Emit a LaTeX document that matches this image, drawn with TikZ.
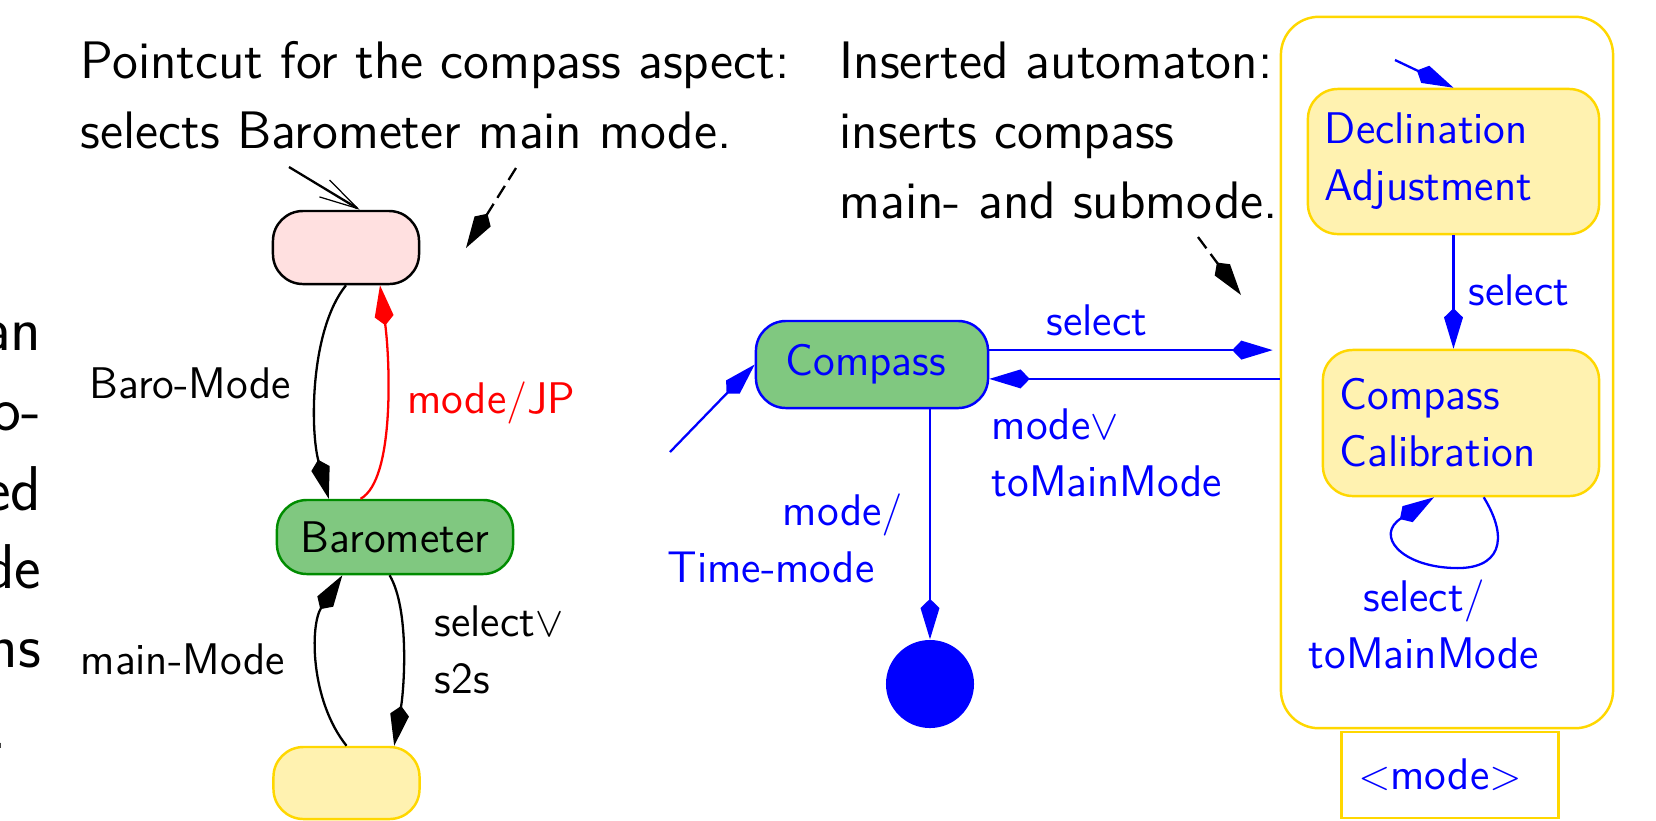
\documentclass[tikz,border=0pt]{standalone}
\usetikzlibrary{arrows.meta}
\definecolor{pinkfill}{RGB}{255,224,224}
\definecolor{greenfill}{RGB}{128,200,128}
\definecolor{yellowfill}{RGB}{255,242,176}
\definecolor{goldline}{RGB}{255,215,0}
\definecolor{greenline}{RGB}{0,140,0}
\begin{document}
\begin{tikzpicture}[x=0.01cm,y=-0.01cm,
  lblfont/.style={font=\sffamily\fontsize{12.6}{16.2}\selectfont},
  lbl/.style={lblfont,inner sep=0pt,align=left},
  ttl/.style={font=\sffamily\fontsize{15}{19.85}\selectfont,inner sep=0pt,align=left},
  frag/.style={font=\sffamily\fontsize{18}{22.5}\selectfont,inner sep=0pt,anchor=base east},
  stbox/.style={lblfont,rounded corners=0.3cm,line width=0.7pt,inner sep=0pt},
  pinkst/.style={stbox,draw=black,fill=pinkfill},
  greenst/.style={stbox,fill=greenfill},
  yellowst/.style={stbox,draw=goldline,fill=yellowfill},
  kitetip/.style={-{Kite[length=11.5pt,width=5.4pt,inset=2.6pt]}},
  trans/.style={line width=0.65pt,kitetip},
  dashline/.style={dash pattern=on 4pt off 2pt},
]
\useasboundingbox (0,0) rectangle (1656,820);

% paragraph running in from the left
\foreach \w/\y [count=\k] in {an/350,o-/430,ed/510,de/588,ns/667}
  \node[frag] (frag\k) at (42,\y) {\w};
\node[frag] (frag6) at (8,748) {.};

% headings (base anchor = baseline of the last line)
\node[ttl,anchor=base west] (t1) at (80,148) {Pointcut for the compass aspect:\\selects Barometer main mode.};
\node[ttl,anchor=base west] (t2) at (839,218) {Inserted automaton:\\inserts compass\\main- and submode.};

% pointcut automaton
\node[pinkst,minimum width=1.46cm,minimum height=0.73cm] (pink) at (346,247.5) {};
\node[greenst,draw=greenline,minimum width=2.36cm,minimum height=0.74cm] (baro) at (395,537) {Barometer};
\node[yellowst,minimum width=1.46cm,minimum height=0.72cm] (bot) at (346.5,783) {};

% inserted automaton
\node[greenst,draw=blue,text=blue,minimum width=2.32cm,minimum height=0.87cm] (compass) at (872,364.5) {Compass\kern0.12cm};
\node[circle,fill=blue,inner sep=0pt,minimum size=0.88cm] (final) at (930,684) {};
\node[draw=goldline,line width=0.7pt,rounded corners=0.38cm,minimum width=3.32cm,minimum height=7.11cm] (sub) at (1447,372.5) {};
\node[yellowst,text=blue,align=left,text width=2.57cm,inner xsep=0.17cm,minimum width=2.91cm,minimum height=1.45cm] (decl) at (1453.5,161.5) {Declination\\Adjustment};
\node[yellowst,text=blue,align=left,text width=2.42cm,inner xsep=0.17cm,minimum width=2.76cm,minimum height=1.46cm] (cc) at (1461,423) {Compass\\Calibration};
\node[draw=goldline,line width=0.7pt,lblfont,text=blue,minimum width=2.17cm,minimum height=0.86cm] (modebox) at (1450,775) {$<$mode$>$\kern0.2cm};

% connectors of the pointcut
\coordinate (i1) at (289,167);
\draw[line width=0.65pt,-{Straight Barb[length=11pt,width=5.6pt,line width=0.35pt]}] (i1) -- (pink.70);
\coordinate (d1s) at (516,168);
\coordinate (d1e) at (466,248);
\draw[trans,dashline] (d1s) -- (d1e);
\draw[trans] (pink.south) .. controls (310,330) and (310,430) .. (baro.150);
\draw[trans,red] (baro.132) .. controls (395,480) and (390,360) .. (pink.-48);
\draw[trans] (bot.north) .. controls (310,700) and (310,625) .. (baro.216);
\draw[trans] (baro.-98) .. controls (410,610) and (404,690) .. (bot.38);

% connectors of the inserted automaton
\coordinate (cin) at (670,452);
\draw[trans,blue] (cin) -- (compass.west);
\draw[trans,blue,shorten >=2pt] (compass.7) -- (compass.7 -| sub.west);
\draw[trans,blue] (compass.-7 -| sub.west) -- (compass.-7);
\draw[trans,blue] (final.north |- compass.south) -- (final.north);
\coordinate (d2s) at (1198,237);
\coordinate (d2e) at (1241,295);
\draw[trans,dashline] (d2s) -- (d2e);
\coordinate (dinit) at (1395,60);
\draw[trans,blue] (dinit) -- (decl.north);
\draw[trans,blue] (decl.south) -- (decl.south |- cc.north);
\draw[trans,blue] (cc.-73) .. controls (1510,540) and (1500,570) .. (1453,568)
  .. controls (1400,566) and (1375,535) .. (cc.-110);

% transition labels (base anchor = baseline of the last line)
\node[lbl,anchor=base west] (lbaro) at (89,398) {Baro-Mode};
\node[lbl,anchor=base west,text=red] (ljp) at (407,413) {mode$/$JP};
\node[lbl,anchor=base west] (lmain) at (80,674) {main-Mode};
\node[lbl,anchor=base west] (ls2s) at (434,693) {select$\vee$\\s2s};
\node[lbl,anchor=base west,text=blue] (lsel) at (1046,335) {select};
\node[lbl,anchor=base west,text=blue] (ltmm) at (991,496) {mode$\vee$\\toMainMode};
\node[lbl,anchor=base east,align=right,text=blue] (ltime) at (903,582) {mode$/$\\Time-mode\kern0.28cm};
\node[lbl,anchor=base west,text=blue] (lsel2) at (1468,305) {select};
\node[lbl,anchor=base,align=center,text=blue] (lloop) at (1424,668) {select$/$\\toMainMode};
\end{tikzpicture}
\end{document}
